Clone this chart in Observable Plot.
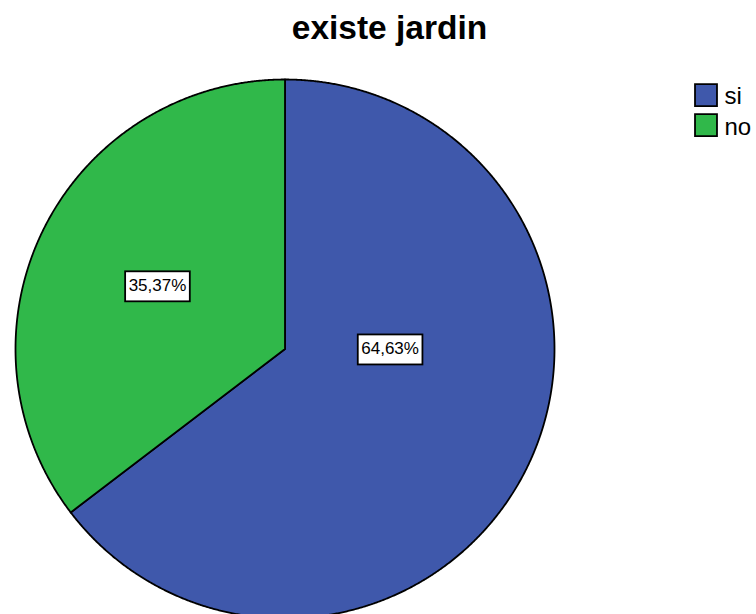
<!DOCTYPE html>
<html>
<head>
<meta charset="utf-8">
<script src="https://cdn.jsdelivr.net/npm/d3@7"></script>
<script src="https://cdn.jsdelivr.net/npm/@observablehq/plot@0.6"></script>
<style>
  body { margin: 0; background: #fff; }
  #chart { width: 756px; height: 614px; overflow: hidden; }
</style>
</head>
<body>
<div id="chart"></div>
<script>
const title = "existe jardin";
const categories = ["si", "no"];
const percents = [64.63, 35.37];
const colors = ["#3F58AB", "#30B84A"];

// layout constants
const W = 756, H = 614, cx = 284.5, cy = 348.5, R = 269.5;
const labelAngle = [90, null];   // null -> slice mid-angle
const labelRadius = [0.39, 0.528];
const font = "Liberation Sans, Arial, Helvetica, sans-serif";

// build slices from values
let acc = 0;
const slices = categories.map((c, i) => {
  const a0 = acc, a1 = acc + percents[i] / 100 * 360;
  acc = a1;
  return {c, a0, a1, p: percents[i], i};
});
const rad = d => d * Math.PI / 180;
const pts = [];
for (const s of slices) {
  pts.push({c: s.c, x: 0, y: 0});
  const n = Math.ceil((s.a1 - s.a0) / 0.25);
  for (let k = 0; k <= n; k++) {
    const a = rad(s.a0 + (s.a1 - s.a0) * k / n);
    pts.push({c: s.c, x: Math.sin(a), y: -Math.cos(a)});
  }
}
const labels = slices.map(s => {
  const ang = rad(labelAngle[s.i] ?? (s.a0 + s.a1) / 2);
  const r = labelRadius[s.i];
  return {x: r * Math.sin(ang), y: -r * Math.cos(ang), text: s.p.toFixed(2).replace(".", ",") + "%"};
});

const plot = Plot.plot({
  width: W, height: H, margin: 0,
  style: {fontFamily: font, background: "white"},
  x: {domain: [-cx / R, (W - cx) / R], range: [0, W], axis: null},
  y: {domain: [-cy / R, (H - cy) / R], range: [0, H], axis: null},
  color: {domain: categories, range: colors},
  marks: [
    Plot.line(pts, {x: "x", y: "y", z: "c", fill: "c", stroke: "black", strokeWidth: 1.8, curve: "linear-closed", strokeLinejoin: "round"}),
    Plot.text(labels, {x: "x", y: "y", text: "text", fontSize: 17, fill: "black"}),
    Plot.text([title], {frameAnchor: "top", lineAnchor: "bottom", dx: 11, dy: 38, fontSize: 33.5, fontWeight: "bold", fill: "black"}),
    ...categories.map((c, i) => Plot.dot([c], {frameAnchor: "top-left", dx: 705.5, dy: 94.7 + i * 30, symbol: "square", r: 12.4, fill: colors[i], stroke: "black", strokeWidth: 1.8})),
    ...categories.map((c, i) => Plot.text([c], {frameAnchor: "top-left", dx: 724, dy: 103 + i * 31, textAnchor: "start", lineAnchor: "bottom", fontSize: 24, fill: "black"}))
  ]
});
document.getElementById("chart").appendChild(plot);

// white boxes behind slice labels
const g = plot.querySelectorAll('g[aria-label="text"]')[0];
g.querySelectorAll("text").forEach(t => {
  const b = t.getBBox();
  const rect = document.createElementNS("http://www.w3.org/2000/svg", "rect");
  const boxW = Math.max(b.width + 7, 0), boxH = 30;
  const midY = b.y + b.height / 2;
  rect.setAttribute("x", b.x + b.width / 2 - boxW / 2);
  rect.setAttribute("y", midY - boxH / 2 + 0.5);
  rect.setAttribute("width", boxW);
  rect.setAttribute("height", boxH);
  rect.setAttribute("fill", "white");
  rect.setAttribute("stroke", "black");
  rect.setAttribute("stroke-width", 1.8);
  const tr = t.getAttribute("transform");
  if (tr) rect.setAttribute("transform", tr);
  t.parentNode.insertBefore(rect, t);
});
</script>
</body>
</html>
